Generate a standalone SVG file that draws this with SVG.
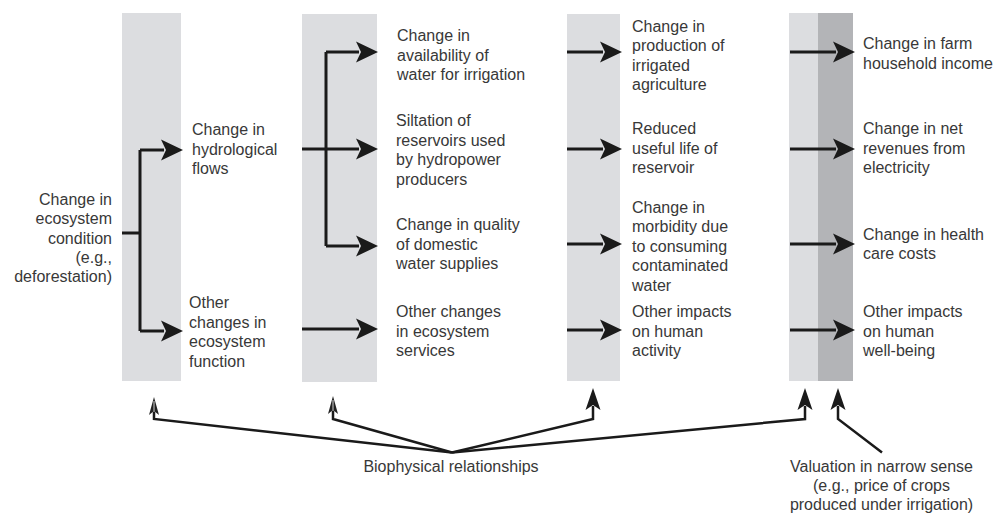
<svg xmlns="http://www.w3.org/2000/svg" width="997" height="516" viewBox="0 0 997 516">
<style>
.bar{fill:#dcdde0}
.bard{fill:#b3b4b7}
.t{font-family:"Liberation Sans",Arial,Helvetica,sans-serif;font-size:16px;fill:#383838}
.c{fill:none;stroke:#1a1a1a;stroke-width:3}
.cb{fill:none;stroke:#1a1a1a;stroke-width:2.5}
</style>
<defs>
<marker id="ah" markerUnits="userSpaceOnUse" markerWidth="24" markerHeight="24" refX="2" refY="0" orient="auto" overflow="visible">
<path d="M-1,-10.5 L21,0 L-1,10.5 L4,0 Z" fill="#1a1a1a"/>
</marker>
<marker id="ab" markerUnits="userSpaceOnUse" markerWidth="24" markerHeight="24" refX="4" refY="0" orient="auto" overflow="visible">
<path d="M0,-7.5 L22,0 L0,7.5 L5,0 Z" fill="#1a1a1a"/>
</marker>
<marker id="at" markerUnits="userSpaceOnUse" markerWidth="20" markerHeight="20" refX="4" refY="0" orient="auto" overflow="visible">
<path d="M0,-5 L18,0 L0,5 L4,0 Z" fill="#222"/>
<path d="M3,0 L14,0" stroke="#fff" stroke-width="0.8"/>
</marker>
</defs>

<g id="bars">
<rect class="bar" x="122" y="13" width="59" height="368"/>
<rect class="bar" x="302" y="14" width="75" height="368"/>
<rect class="bar" x="567" y="14" width="53" height="367"/>
<rect class="bar" x="789" y="13" width="29" height="368"/>
<rect class="bard" x="818" y="13" width="35" height="368"/>
</g>

<g id="connectors">
<path class="c" d="M122,233 H140 M140,150 V331"/>
<path class="c" d="M140,150 H164" marker-end="url(#ah)"/>
<path class="c" d="M140,331 H164" marker-end="url(#ah)"/>
<path class="c" d="M302,149 H359" marker-end="url(#ah)"/>
<path class="c" d="M326,52 V246"/>
<path class="c" d="M326,52 H359" marker-end="url(#ah)"/>
<path class="c" d="M326,246 H359" marker-end="url(#ah)"/>
<path class="c" d="M302,329 H359" marker-end="url(#ah)"/>
<path class="c" d="M567,52 H603" marker-end="url(#ah)"/>
<path class="c" d="M567,149 H603" marker-end="url(#ah)"/>
<path class="c" d="M567,244 H603" marker-end="url(#ah)"/>
<path class="c" d="M567,330 H603" marker-end="url(#ah)"/>
<path class="c" d="M790,52 H836" marker-end="url(#ah)"/>
<path class="c" d="M790,149 H836" marker-end="url(#ah)"/>
<path class="c" d="M790,244 H836" marker-end="url(#ah)"/>
<path class="c" d="M790,330 H836" marker-end="url(#ah)"/>
<path class="cb" d="M452,452.5 L154,419 V411" marker-end="url(#at)"/>
<path class="cb" d="M452,452.5 L333,419 V410" marker-end="url(#at)"/>
<path class="cb" d="M452,452.5 L593,419 V406" marker-end="url(#ab)"/>
<path class="cb" d="M452,452.5 L805,419 V406" marker-end="url(#ab)"/>
<path class="cb" d="M882,452.5 L838,419 V406" marker-end="url(#ab)"/>
</g>

<g id="n-condition">
<text class="t" text-anchor="end"><tspan x="112" y="205">Change in</tspan><tspan x="112" y="224.3">ecosystem</tspan><tspan x="112" y="243.6">condition</tspan><tspan x="112" y="262.9">(e.g.,</tspan><tspan x="112" y="282.2">deforestation)</tspan></text>
</g>
<g id="n-hydro">
<text class="t"><tspan x="192" y="135">Change in</tspan><tspan x="192" y="154.5">hydrological</tspan><tspan x="192" y="174">flows</tspan></text>
</g>
<g id="n-otherfunc">
<text class="t"><tspan x="189" y="308">Other</tspan><tspan x="189" y="327.5">changes in</tspan><tspan x="189" y="347">ecosystem</tspan><tspan x="189" y="366.5">function</tspan></text>
</g>
<g id="n-avail">
<text class="t"><tspan x="397" y="41">Change in</tspan><tspan x="397" y="60.5">availability of</tspan><tspan x="397" y="80">water for irrigation</tspan></text>
</g>
<g id="n-silt">
<text class="t"><tspan x="396" y="126">Siltation of</tspan><tspan x="396" y="145.5">reservoirs used</tspan><tspan x="396" y="165">by hydropower</tspan><tspan x="396" y="184.5">producers</tspan></text>
</g>
<g id="n-quality">
<text class="t"><tspan x="396" y="230">Change in quality</tspan><tspan x="396" y="249.5">of domestic</tspan><tspan x="396" y="269">water supplies</tspan></text>
</g>
<g id="n-services">
<text class="t"><tspan x="396" y="317">Other changes</tspan><tspan x="396" y="336.5">in ecosystem</tspan><tspan x="396" y="356">services</tspan></text>
</g>
<g id="n-production">
<text class="t"><tspan x="632" y="31.5">Change in</tspan><tspan x="632" y="51">production of</tspan><tspan x="632" y="70.5">irrigated</tspan><tspan x="632" y="90">agriculture</tspan></text>
</g>
<g id="n-reduced">
<text class="t"><tspan x="632" y="134">Reduced</tspan><tspan x="632" y="153.5">useful life of</tspan><tspan x="632" y="173">reservoir</tspan></text>
</g>
<g id="n-morbidity">
<text class="t"><tspan x="632" y="212.5">Change in</tspan><tspan x="632" y="232">morbidity due</tspan><tspan x="632" y="251.5">to consuming</tspan><tspan x="632" y="271">contaminated</tspan><tspan x="632" y="290.5">water</tspan></text>
</g>
<g id="n-activity">
<text class="t"><tspan x="632" y="317">Other impacts</tspan><tspan x="632" y="336.5">on human</tspan><tspan x="632" y="356">activity</tspan></text>
</g>
<g id="n-income">
<text class="t"><tspan x="863" y="49">Change in farm</tspan><tspan x="863" y="68.5">household income</tspan></text>
</g>
<g id="n-revenue">
<text class="t"><tspan x="863" y="134">Change in net</tspan><tspan x="863" y="153.5">revenues from</tspan><tspan x="863" y="173">electricity</tspan></text>
</g>
<g id="n-health">
<text class="t"><tspan x="863" y="239.5">Change in health</tspan><tspan x="863" y="259">care costs</tspan></text>
</g>
<g id="n-wellbeing">
<text class="t"><tspan x="863" y="317">Other impacts</tspan><tspan x="863" y="336.5">on human</tspan><tspan x="863" y="356">well-being</tspan></text>
</g>
<g id="n-biophysical">
<text class="t" x="451" y="472" text-anchor="middle">Biophysical relationships</text>
</g>
<g id="n-valuation">
<text class="t" text-anchor="middle"><tspan x="881.5" y="472">Valuation in narrow sense</tspan><tspan x="881.5" y="491">(e.g., price of crops</tspan><tspan x="881.5" y="510">produced under irrigation)</tspan></text>
</g>
</svg>
